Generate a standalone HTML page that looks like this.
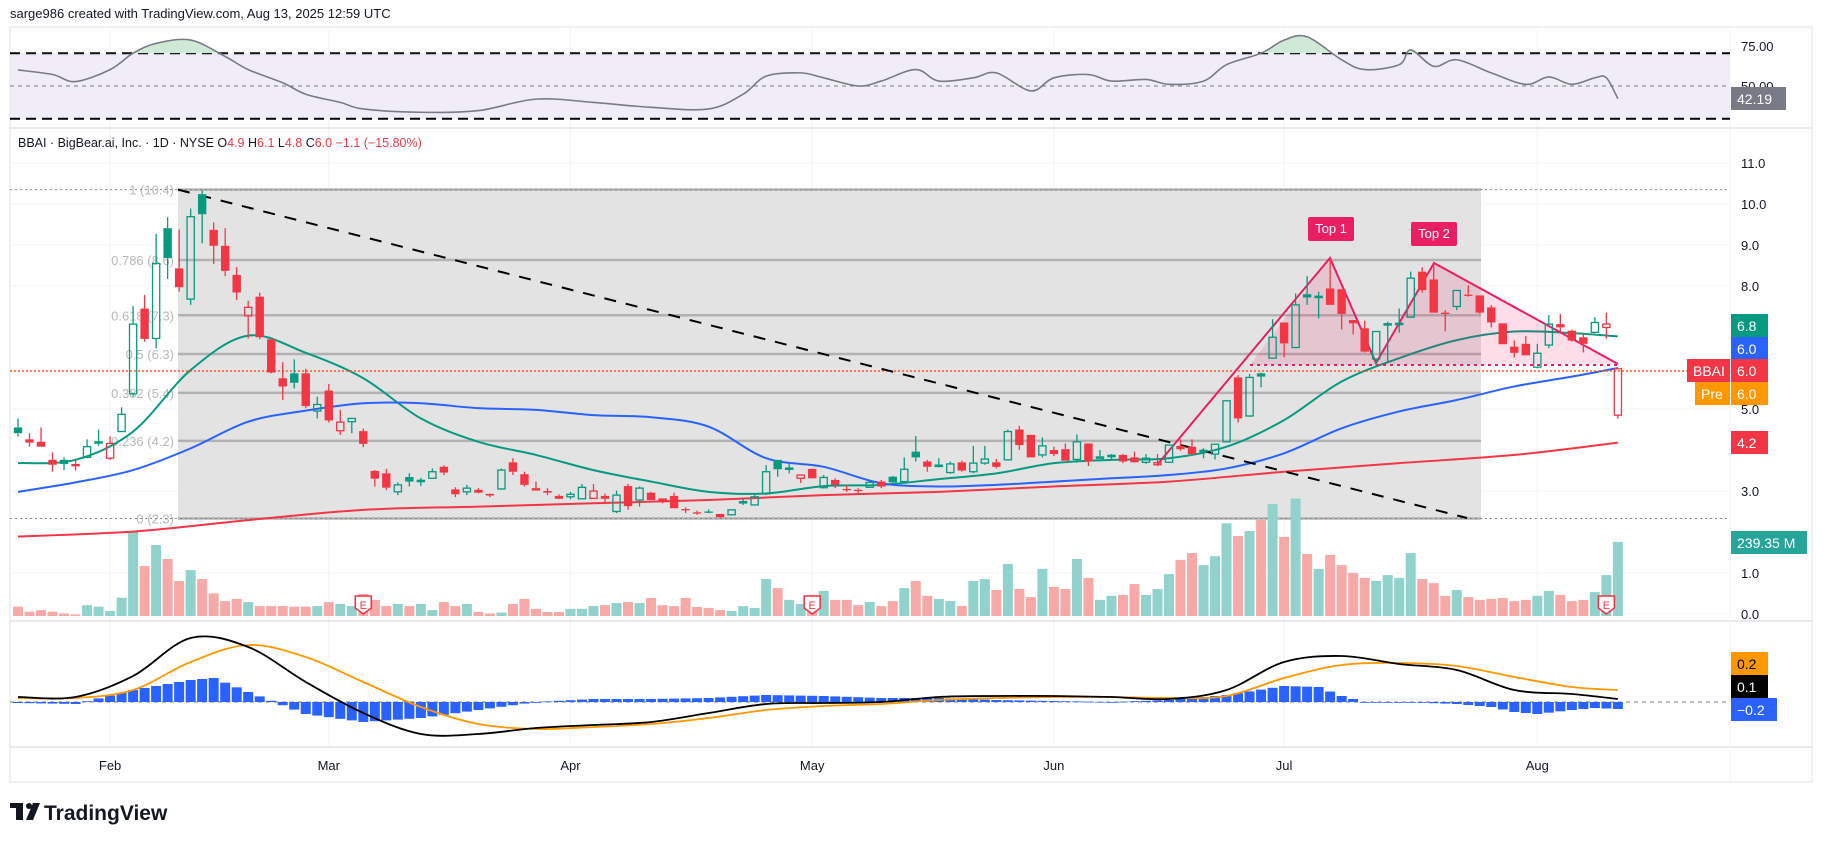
<!DOCTYPE html>
<html><head><meta charset="utf-8"><title>BBAI chart</title>
<style>
html,body{margin:0;padding:0;background:#fff;}
body{width:1827px;height:843px;overflow:hidden;font-family:"Liberation Sans",sans-serif;}
svg text{font-family:"Liberation Sans",sans-serif;}
</style></head>
<body>
<svg id="chart" width="1827" height="843" viewBox="0 0 1827 843" xmlns="http://www.w3.org/2000/svg">
<text x="10" y="18" font-size="13" fill="#131722">sarge986 created with TradingView.com, Aug 13, 2025 12:59 UTC</text>
<rect x="10" y="27" width="1802" height="755" fill="none" stroke="#e0e3eb"/>
<g id="grid"></g>
<g id="rsi"></g>
<g id="main"></g>
<g id="macd"></g>
<g id="axes"></g>
<text x="18" y="147" font-size="12.5" fill="#131722">BBAI · BigBear.ai, Inc. · 1D · NYSE  <tspan>O</tspan><tspan fill="#f23645">4.9</tspan>  H<tspan fill="#f23645">6.1</tspan>  L<tspan fill="#f23645">4.8</tspan>  C<tspan fill="#f23645">6.0</tspan>  <tspan fill="#f23645">−1.1 (−15.80%)</tspan></text>
<g>
<rect x="10" y="803" width="13" height="5" fill="#131722"/><rect x="16" y="803" width="7" height="17" fill="#131722"/>
<circle cx="29" cy="806" r="3" fill="#131722"/><polygon points="33,803 40,803 33,820 26,820" fill="#131722"/>
<text x="44" y="820" font-size="21" font-weight="bold" fill="#131722">TradingView</text>
</g>
</svg>
<script>
// ---------- DATA ----------
const O=[4.55,4.26,4.20,3.76,3.76,3.66,3.82,4.18,3.80,4.45,5.37,7.45,6.72,9.41,8.43,7.68,10.24,9.37,8.98,8.27,7.27,7.74,6.70,5.75,5.87,5.87,4.95,5.45,4.47,4.69,4.46,3.49,3.43,2.98,3.34,3.25,3.31,3.59,3.04,2.98,3.03,2.93,3.05,3.70,3.41,3.07,3.00,2.88,2.86,2.81,2.82,2.88,2.50,3.12,2.78,2.96,2.82,2.88,2.56,2.48,2.50,2.44,2.42,2.72,2.66,2.93,3.76,3.55,3.31,3.54,3.08,3.27,3.05,3.03,3.09,3.23,3.35,3.23,3.96,3.72,3.62,3.45,3.70,3.47,3.68,3.70,3.76,4.50,4.37,3.88,4.00,4.02,3.77,4.16,3.82,3.86,3.88,3.82,3.70,3.64,3.70,4.10,4.08,3.98,3.90,4.20,5.77,4.83,5.87,6.24,7.11,6.50,7.80,7.74,7.94,7.92,7.17,6.97,6.22,7.07,7.08,7.24,8.35,8.16,7.35,7.50,7.79,7.77,7.48,7.09,6.52,6.59,6.02,6.56,7.07,6.91,6.75,6.87,6.99,4.85];
const H=[4.77,4.41,4.55,3.94,3.82,3.76,4.26,4.50,4.33,5.04,7.51,7.78,9.27,9.68,9.38,9.89,10.33,9.55,9.41,8.46,7.64,7.84,6.72,6.14,6.21,5.98,5.30,5.61,4.98,4.77,4.52,3.51,3.54,3.21,3.43,3.32,3.55,3.63,3.09,3.15,3.07,2.94,3.55,3.80,3.47,3.23,3.07,2.92,2.98,3.17,3.17,2.94,3.01,3.17,3.11,2.98,2.82,2.96,2.60,2.52,2.55,2.44,2.55,2.82,2.90,3.63,3.76,3.66,3.39,3.55,3.39,3.31,3.15,3.07,3.23,3.27,3.37,3.82,4.34,3.76,3.80,3.72,3.74,4.10,4.10,3.78,4.50,4.59,4.37,4.31,4.08,4.16,4.38,4.16,4.00,3.90,3.90,3.96,3.90,3.90,4.12,4.26,4.26,4.04,4.14,5.22,5.83,5.85,5.89,7.19,7.11,7.82,8.24,7.86,8.67,7.92,7.17,7.15,6.89,7.13,7.45,8.35,8.46,8.57,7.41,7.89,8.02,7.77,7.54,7.09,6.67,6.78,6.59,7.29,7.32,6.94,6.86,7.24,7.35,6.00];
const L=[4.33,4.08,4.08,3.47,3.51,3.50,3.80,4.10,3.76,4.45,5.30,6.64,6.48,8.17,7.86,7.54,9.04,8.54,8.24,7.66,6.72,6.70,5.87,5.22,5.50,5.02,4.77,4.67,4.37,4.41,4.07,3.11,3.03,2.90,3.11,3.12,3.31,3.39,2.85,2.90,2.94,2.85,3.03,3.39,3.11,3.01,2.90,2.80,2.80,2.80,2.82,2.68,2.46,2.54,2.62,2.78,2.70,2.58,2.46,2.42,2.46,2.33,2.42,2.66,2.66,2.90,3.35,3.43,3.20,3.31,3.07,3.07,2.98,2.94,3.09,3.07,3.20,3.23,3.72,3.47,3.58,3.42,3.47,3.43,3.64,3.55,3.74,4.00,3.82,3.82,3.85,3.74,3.69,3.61,3.80,3.76,3.68,3.70,3.66,3.61,3.70,3.98,3.88,3.80,3.77,4.20,4.67,4.81,5.53,6.24,6.26,6.48,7.54,7.21,7.54,6.94,6.82,6.38,6.07,6.13,6.86,7.24,7.84,7.35,6.89,7.41,7.74,7.32,6.99,6.58,6.26,6.31,5.99,6.48,6.88,6.64,6.38,6.85,6.72,4.76];
const C=[4.41,4.18,4.08,3.64,3.66,3.60,4.08,4.20,4.16,4.87,7.07,6.71,8.55,8.68,7.97,9.69,9.75,8.98,8.37,7.84,7.48,6.75,5.89,5.55,5.64,5.07,5.11,4.72,4.68,4.77,4.15,3.30,3.08,3.15,3.23,3.26,3.47,3.45,2.92,3.07,2.96,2.89,3.51,3.47,3.15,3.01,2.96,2.81,2.92,3.09,3.00,2.81,2.90,2.63,3.07,2.78,2.76,2.58,2.54,2.47,2.48,2.36,2.54,2.74,2.86,3.47,3.53,3.56,3.39,3.31,3.33,3.15,3.03,3.02,3.21,3.11,3.21,3.53,3.82,3.59,3.63,3.66,3.50,3.68,3.78,3.59,4.45,4.12,3.82,4.10,3.90,3.74,4.20,3.72,3.83,3.87,3.72,3.70,3.80,3.69,4.12,4.02,3.90,3.99,4.14,5.20,4.77,5.77,5.79,6.75,6.60,7.54,7.72,7.75,7.54,7.32,7.09,6.40,6.89,7.08,7.09,8.19,7.90,7.35,7.33,7.89,7.77,7.35,7.11,6.58,6.37,6.31,6.36,7.07,6.99,6.67,6.59,7.11,7.07,5.98];
const VOL=[30,14,19,14,8,5,35,30,16,59,272,161,229,184,113,148,119,73,48,55,45,32,32,32,30,30,32,45,39,32,71,52,32,39,32,39,19,45,32,39,13,8,11,39,55,23,13,13,23,23,32,35,42,45,42,58,35,32,58,29,26,19,16,32,26,119,90,52,39,68,81,52,52,35,45,32,48,90,113,65,55,48,32,113,119,84,168,87,61,152,94,87,184,123,52,65,68,103,68,87,135,181,203,164,193,299,258,274,310,361,255,379,200,152,197,164,139,123,113,132,123,203,119,106,65,84,61,52,55,58,48,52,65,81,68,48,52,77,132,239];
const maIdx=[0,5,10,15,20,25,30,35,40,45,50,55,60,65,70,75,80,85,90,95,100,105,110,115,120,125,130,135,139];
const ma20=[3.68,3.76,4.45,5.95,6.79,6.37,5.75,4.77,4.20,3.88,3.51,3.23,2.98,2.94,3.12,3.15,3.29,3.43,3.68,3.76,3.80,4.08,4.73,5.67,6.24,6.68,6.89,6.85,6.77];
const ma50=[2.98,3.21,3.51,4.04,4.69,4.96,5.14,5.14,5.02,4.98,4.85,4.80,4.57,3.80,3.59,3.19,3.11,3.15,3.23,3.31,3.39,3.55,3.92,4.53,4.94,5.22,5.55,5.79,6.00];
const ma200Idx=[0,10,20,30,40,50,60,70,80,90,100,110,120,130,139];
const ma200=[1.89,2.01,2.29,2.54,2.62,2.70,2.78,2.90,2.98,3.11,3.23,3.47,3.68,3.88,4.18];
const rsiIdx=[0,3,5,8,10,12,15,18,20,23,25,28,30,35,40,45,50,55,60,63,65,68,70,73,75,78,80,83,85,88,90,93,95,98,100,103,105,108,110,112,115,117,120,121,123,125,128,131,133,135,137,138,139];
const rsiVals=[59.8,57,52.7,60,70,76,78,68,60,52,45,40,36,34,35,42,40,37,36,45,56,58,55,50,53,60,53,55,58,47,55,57,53,54,51,53,63,70,78,80,66,60,63,72,62,66,58,51,55.5,51,55,55,42.2];
const macdIdx=maIdx;
const macdLine=[.05,.05,.26,.64,.55,.2,-.11,-.32,-.32,-.26,-.23,-.2,-.11,-.02,-.01,0,.05,.06,.06,.05,.03,.12,.4,.46,.38,.32,.12,.08,.03];
const signalLine=[.04,.04,.12,.4,.57,.45,.2,-.05,-.22,-.27,-.25,-.22,-.16,-.08,-.04,-.02,.02,.04,.05,.05,.04,.06,.24,.37,.39,.36,.25,.15,.12];
const histIdx=[0,5,10,15,17,20,25,30,35,40,45,50,55,60,65,70,75,80,85,90,95,100,105,110,113,115,117,120,125,128,130,132,135,137,139];
const histVals=[-.01,-.02,.12,.22,.24,.1,-.12,-.2,-.16,-.08,0,.03,.03,.04,.07,.06,.04,.04,.02,.01,0,.02,.07,.16,.15,.06,0,0,-.02,-.05,-.1,-.12,-.08,-.06,-.07];
const fibLevels=[1,0.786,0.618,0.5,0.382,0.236,0];
const fibLabels=["1 (10.4)","0.786 (8.6)","0.618 (7.3)","0.5 (6.3)","0.382 (5.4)","0.236 (4.2)","0 (2.3)"];
const priceTicks=[11,10,9,8,5,3,1,0];
const priceTickLabels=["11.0","10.0","9.0","8.0","5.0","3.0","1.0","0.0"];
const months=["Feb","Mar","Apr","May","Jun","Jul","Aug"];
const monthIdx=[8,27,48,69,90,110,132];
const earningsIdx=[30,69,138];
// ---------- SCALES ----------
const NS="http://www.w3.org/2000/svg";
const xAt=i=>18+i*11.51;
const yP=p=>163+(11-p)*41;
const yR=v=>86-(v-50)*1.64;
const yM=v=>702-v*100;
const yV=v=>616-v*0.31;
const fibLo=2.33,fibHi=10.35;
function mk(tag,parent,at){const e=document.createElementNS(NS,tag);for(const k in at)e.setAttribute(k,at[k]);parent.appendChild(e);return e;}
function smooth(pts){let d=`M${pts[0][0]},${pts[0][1]}`;for(let i=0;i<pts.length-1;i++){const p0=pts[Math.max(0,i-1)],p1=pts[i],p2=pts[i+1],p3=pts[Math.min(pts.length-1,i+2)];d+=` C${p1[0]+(p2[0]-p0[0])/6},${p1[1]+(p2[1]-p0[1])/6} ${p2[0]-(p3[0]-p1[0])/6},${p2[1]-(p3[1]-p1[1])/6} ${p2[0]},${p2[1]}`;}return d;}
function interp(idx,vals,i){for(let k=0;k<idx.length-1;k++){if(i>=idx[k]&&i<=idx[k+1]){const t=(i-idx[k])/(idx[k+1]-idx[k]);return vals[k]+(vals[k+1]-vals[k])*t;}}return vals[vals.length-1];}
const grid=document.getElementById('grid'),rsi=document.getElementById('rsi'),main=document.getElementById('main'),macd=document.getElementById('macd'),axes=document.getElementById('axes');
// grid
monthIdx.forEach((m,k)=>{const l=mk('line',grid,{x1:xAt(m),x2:xAt(m),y1:27,y2:747,stroke:'#f0f3fa'});


const t=mk('text',axes,{x:xAt(m),y:770,'font-size':13,'text-anchor':'middle',fill:'#131722'});t.textContent=months[k];

});
priceTicks.forEach((p,k)=>{const l=mk('line',grid,{x1:10,x2:1730,y1:yP(p),y2:yP(p),stroke:'#f0f3fa'});


const t=mk('text',axes,{x:1741,y:yP(p)+5,'font-size':13,fill:'#131722'});t.textContent=priceTickLabels[k];

});
[[128,'rsi-separator'],[621,'macd-separator'],[747,'time-axis-separator']].forEach(s=>{const l=mk('line',grid,{x1:10,x2:1812,y1:s[0],y2:s[0],stroke:'#e0e3eb','stroke-width':1.5});

});
mk('line',grid,{x1:1730,x2:1730,y1:27,y2:782,stroke:'#f0f3fa'});
// ---------- RSI ----------
const band=mk('rect',rsi,{x:10,y:yR(70),width:1720,height:yR(30)-yR(70),fill:'#f0edf8'});


[70,30].forEach(v=>{const l=mk('line',rsi,{x1:10,x2:1730,y1:yR(v),y2:yR(v),stroke:'#000','stroke-width':2,'stroke-dasharray':'10,6'});

});
const mid=mk('line',rsi,{x1:10,x2:1730,y1:yR(50),y2:yR(50),stroke:'#787b86','stroke-dasharray':'4,4'});


const rsiPts=rsiIdx.map((i,k)=>[xAt(i),yR(rsiVals[k])]);
const clip=mk('clipPath',rsi,{id:'obClip'});mk('rect',clip,{x:10,y:27,width:1720,height:yR(70)-27});
const ob=mk('path',rsi,{d:smooth(rsiPts)+` L${xAt(139)},${yR(70)} L${xAt(0)},${yR(70)} Z`,fill:'#cfe9d6','clip-path':'url(#obClip)'});


const rl=mk('path',rsi,{d:smooth(rsiPts),fill:'none',stroke:'#787b86','stroke-width':1.6});


const t75=mk('text',axes,{x:1741,y:51,'font-size':13,fill:'#131722'});t75.textContent='75.00';


const t50=mk('text',axes,{x:1741,y:91,'font-size':13,fill:'#131722'});t50.textContent='50.00';


// ---------- MAIN ----------
const fx1=178,fx2=1481;
const box=mk('rect',main,{x:fx1,y:yP(fibHi),width:fx2-fx1,height:yP(fibLo)-yP(fibHi),fill:'#e3e3e3'});


fibLevels.forEach((f,k)=>{const p=fibLo+f*(fibHi-fibLo);
const l=mk('line',main,{x1:fx1,x2:fx2,y1:yP(p),y2:yP(p),stroke:'#b2b2b2','stroke-width':2.5});


const t=mk('text',main,{x:fx1-4,y:yP(p)+5,'font-size':13,'text-anchor':'end',fill:'#b8b8b8'});t.textContent=fibLabels[k];


if(f===1||f===0){const d=mk('line',main,{x1:10,x2:1730,y1:yP(p),y2:yP(p),stroke:'#888','stroke-dasharray':'2,3'});

}});
// volume (colour by close vs open)
VOL.forEach((v,i)=>{const up=C[i]>=O[i];const r=mk('rect',main,{x:xAt(i)-5,y:yV(v),width:10,height:616-yV(v),fill:up?'#92d2cc':'#f7a9a7'});

});
// MAs
[[maIdx,ma20,'#089981','ma-20-line'],[maIdx,ma50,'#2962ff','ma-50-line'],[ma200Idx,ma200,'#f23645','ma-200-line']].forEach(m=>{
const p=mk('path',main,{d:smooth(m[0].map((i,k)=>[xAt(i),yP(m[1][k])])),fill:'none',stroke:m[2],'stroke-width':2});

});
const ol=mk('line',main,{x1:10,x2:1730,y1:yP(6.0)+3,y2:yP(6.0)+3,stroke:'#ff5722','stroke-width':1.5,'stroke-dasharray':'2,2'});


const tr=mk('line',main,{x1:fx1,y1:yP(10.35),x2:1467,y2:518,stroke:'#000','stroke-width':2,'stroke-dasharray':'12,10'});


// double top
const dt=mk('polygon',main,{points:'1250,365 1330,258 1376,363 1434,263 1618,364',fill:'rgba(233,30,99,0.15)'});


const dz=mk('polyline',main,{points:'1157,465 1330,258 1376,363 1434,263 1618,364',fill:'none',stroke:'#e91e63','stroke-width':2});


const nk=mk('line',main,{x1:1250,x2:1618,y1:365,y2:365,stroke:'#e91e63','stroke-width':2,'stroke-dasharray':'3,4'});


[[1308,217,'Top 1'],[1411,222,'Top 2']].forEach(t=>{const g=mk('g',main,{});


mk('rect',g,{x:t[0],y:t[1],width:46,height:24,rx:2,fill:'#e91e63'});
const tx=mk('text',g,{x:t[0]+23,y:t[1]+16,'font-size':13,'text-anchor':'middle',fill:'#fff'});tx.textContent=t[2];});
// candles
C.forEach((c,i)=>{const o=O[i],prev=i?C[i-1]:4.3;const col=c>=prev?'#089981':'#f23645';const hollow=c>o;
const x=xAt(i),top=yP(Math.max(o,c)),bot=yP(Math.min(o,c));
const g=mk('g',main,{});


mk('line',g,{x1:x,x2:x,y1:yP(H[i]),y2:top,stroke:col,'stroke-width':1.3});
mk('line',g,{x1:x,x2:x,y1:bot,y2:yP(L[i]),stroke:col,'stroke-width':1.3});
const h=Math.max(bot-top,1.3);
if(hollow)mk('rect',g,{x:x-3.6,y:top,width:7.2,height:h,fill:'none',stroke:col,'stroke-width':1.3});
else mk('rect',g,{x:x-4.2,y:top,width:8.4,height:h,fill:col});});
// earnings
earningsIdx.forEach(i=>{const x=xAt(i);const g=mk('g',main,{});


mk('path',g,{d:`M${x-8},${596} h16 v12 l-8,6 l-8,-6 Z`,fill:'#fff',stroke:'#f23645','stroke-width':1.6});
const t=mk('text',g,{x:x,y:609,'font-size':11,'text-anchor':'middle',fill:'#f23645'});t.textContent='E';});
// ---------- MACD ----------
const z=mk('line',macd,{x1:10,x2:1730,y1:702,y2:702,stroke:'#787b86','stroke-dasharray':'4,4'});


for(let i=0;i<C.length;i++){const v=interp(histIdx,histVals,i);const r=mk('rect',macd,{x:xAt(i)-5,y:Math.min(yM(v),702),width:10,height:Math.max(Math.abs(yM(v)-702),0.8),fill:'#2962ff'});

}
const sg=mk('path',macd,{d:smooth(macdIdx.map((i,k)=>[xAt(i),yM(signalLine[k])])),fill:'none',stroke:'#ff9800','stroke-width':1.8});


const ml=mk('path',macd,{d:smooth(macdIdx.map((i,k)=>[xAt(i),yM(macdLine[k])])),fill:'none',stroke:'#000','stroke-width':1.8});


// ---------- AXIS LABEL BOXES ----------
function tag(x,y,w,txt,bg,fg,name){const g=mk('g',axes,{});


mk('rect',g,{x:x,y:y,width:w,height:23,fill:bg});const t=mk('text',g,{x:x+6,y:y+17,'font-size':14,fill:fg});t.textContent=txt;}
tag(1731,87,55,'42.19','#787b86','#fff','rsi-value-label');
tag(1731,314,37,'6.8','#089981','#fff','ma20-value-label');
tag(1731,337,37,'6.0','#2962ff','#fff','ma50-value-label');
tag(1687,359,43,'BBAI','#f23645','#fff','symbol-tag');
tag(1731,359,37,'6.0','#f23645','#fff','last-price-label');
tag(1695,382,35,'Pre','#ff9800','#fff','premarket-tag');
tag(1731,382,37,'6.0','#ff9800','#fff','premarket-price-label');
tag(1731,431,37,'4.2','#f23645','#fff','ma200-value-label');
tag(1731,531,76,'239.35 M','#26a69a','#fff','volume-value-label');
tag(1731,652,37,'0.2','#ff9800','#000','signal-value-label');
tag(1731,675,37,'0.1','#000','#fff','macd-value-label');
tag(1731,698,46,'−0.2','#2962ff','#fff','histogram-value-label');
</script>
</body></html>
